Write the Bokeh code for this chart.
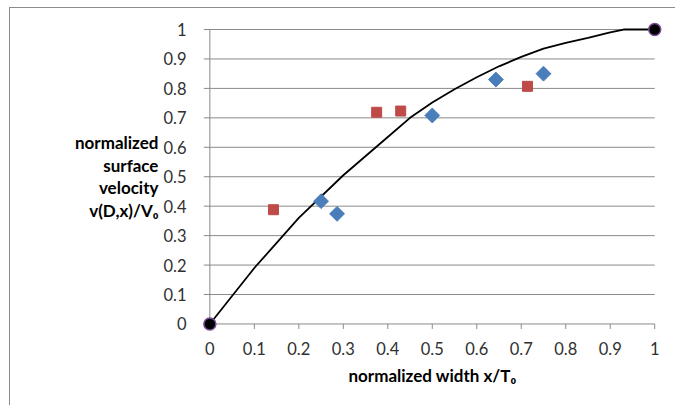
import numpy as np
from bokeh.plotting import figure
from bokeh.models import Range1d, FixedTicker
from bokeh.embed import file_html
from bokeh.resources import INLINE

# ---- data ----
x_ticks = [0, 0.1, 0.2, 0.3, 0.4, 0.5, 0.6, 0.7, 0.8, 0.9, 1.0]
y_ticks = [0, 0.1, 0.2, 0.3, 0.4, 0.5, 0.6, 0.7, 0.8, 0.9, 1.0]

curve_x = [0, 0.1, 0.2, 0.3, 0.4, 0.45, 0.5, 0.55, 0.6, 0.65, 0.7, 0.75, 0.8, 0.85, 0.9, 0.93, 1.0]
curve_y = [0, 0.19, 0.36, 0.505, 0.635, 0.70, 0.752, 0.797, 0.838, 0.875, 0.907, 0.935, 0.955, 0.972, 0.99, 1.0, 1.0]

blue_x = [0.25, 0.286, 0.5, 0.643, 0.75]
blue_y = [0.417, 0.374, 0.708, 0.830, 0.850]

red_x = [0.143, 0.375, 0.429, 0.714]
red_y = [0.388, 0.719, 0.723, 0.807]

end_x = [0, 1]
end_y = [0, 1]

FONT = "Lato"
GRID = "#8a8a8a"
TXT = "#303030"

p = figure(width=666, height=398, output_backend="svg", toolbar_location=None,
           x_range=Range1d(-0.03, 1.031), y_range=Range1d(-0.029, 1.0306),
           min_border_left=186, min_border_right=8, min_border_top=12, min_border_bottom=74,
           margin=(7, 0, 0, 9))
p.styles = {"border-left": "1px solid #8c8c8c", "border-top": "1px solid #8c8c8c"}
p.outline_line_color = None
p.xgrid.visible = False
p.ygrid.visible = False

for ax in (p.xaxis[0], p.yaxis[0]):
    ax.axis_line_color = None
    ax.major_tick_line_color = None
    ax.minor_tick_line_color = None
    ax.major_label_text_font = FONT
    ax.major_label_text_font_size = "16.5px"
    ax.major_label_text_color = TXT
    ax.axis_label_text_font = FONT
    ax.axis_label_text_font_style = "bold"
    ax.axis_label_text_font_size = "17px"
    ax.axis_label_text_color = "#000000"

p.xaxis.ticker = FixedTicker(ticks=x_ticks)
p.yaxis.ticker = FixedTicker(ticks=y_ticks)
p.xaxis.major_label_overrides = {t: f"{t:g}" for t in x_ticks}
p.yaxis.major_label_overrides = {t: f"{t:g}" for t in y_ticks}
p.xaxis.major_label_standoff = 3
p.yaxis.major_label_standoff = 4

p.xaxis.axis_label = "normalized width x/T\u2080"
p.xaxis.axis_label_standoff = 7

p.yaxis.axis_label = "normalized\nsurface\nvelocity\nv(D,x)/V\u2080"
p.yaxis.axis_label_orientation = "horizontal"
p.yaxis.axis_label_text_align = "center"
p.yaxis.axis_label_text_line_height = 1.09
p.yaxis.axis_label_standoff = 2

# gridlines (horizontal, from the tick stub to x=1)
gx0 = [-0.0135] * len(y_ticks)
gx1 = [1.0] * len(y_ticks)
p.segment(x0=gx0, y0=y_ticks, x1=gx1, y1=y_ticks, line_color=GRID, line_width=1)
# y axis line
p.segment(x0=[0], y0=[0], x1=[0], y1=[1], line_color=GRID, line_width=1)
# x tick marks
p.segment(x0=x_ticks, y0=[0] * len(x_ticks), x1=x_ticks, y1=[-0.017] * len(x_ticks),
          line_color=GRID, line_width=1)

# curve
p.line(curve_x, curve_y, line_color="black", line_width=1.8)

# data points
p.scatter(blue_x, blue_y, marker="square", angle=np.pi / 4, size=10.5,
          fill_color="#4A7EBB", line_color="#4A7EBB")
p.scatter(red_x, red_y, marker="square", size=10,
          fill_color="#BE4B48", line_color="#BE4B48")
p.scatter(end_x, end_y, marker="circle", size=12,
          fill_color="black", line_color="#7A4A9A", line_width=1.5)

open("out.html", "w").write(file_html(p, INLINE))
